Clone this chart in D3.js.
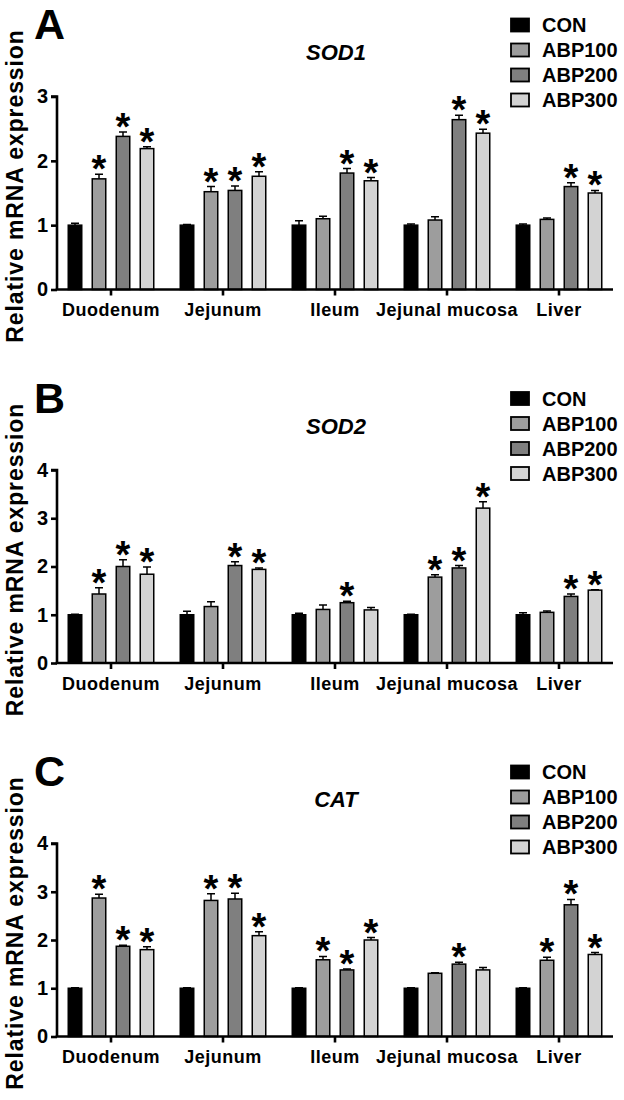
<!DOCTYPE html>
<html>
<head>
<meta charset="utf-8">
<script src="https://cdn.jsdelivr.net/npm/d3@7"></script>
<style>
  body { margin: 0; background: #fff; }
  text { font-family: Arial, "Liberation Sans", Helvetica, sans-serif; font-weight: bold; }
</style>
</head>
<body>
<div id="chart"></div>
<script>
// categories and groups
const tissues = ["Duodenum", "Jejunum", "Ileum", "Jejunal mucosa", "Liver"];
const groups = ["CON", "ABP100", "ABP200", "ABP300"];
const groupColors = ["#000000", "#9d9d9d", "#7f7f7f", "#d3d3d3"];

// panel A - SOD1
const sod1Con = [1, 1, 1, 1, 1];
const sod1ConErr = [0.03, 0.01, 0.07, 0.02, 0.02];
const sod1Abp100 = [1.72, 1.52, 1.10, 1.08, 1.09];
const sod1Abp100Err = [0.07, 0.08, 0.04, 0.05, 0.02];
const sod1Abp200 = [2.38, 1.54, 1.81, 2.64, 1.60];
const sod1Abp200Err = [0.07, 0.07, 0.07, 0.07, 0.06];
const sod1Abp300 = [2.19, 1.76, 1.69, 2.43, 1.50];
const sod1Abp300Err = [0.03, 0.07, 0.05, 0.06, 0.04];
const sod1Sig = [[0,0,0,0,0], [1,1,0,0,0], [1,1,1,1,1], [1,1,1,1,1]];

// panel B - SOD2
const sod2Con = [1, 1, 1, 1, 1];
const sod2ConErr = [0.01, 0.07, 0.03, 0.01, 0.04];
const sod2Abp100 = [1.43, 1.17, 1.11, 1.78, 1.05];
const sod2Abp100Err = [0.13, 0.10, 0.09, 0.05, 0.03];
const sod2Abp200 = [2.00, 2.02, 1.25, 1.97, 1.38];
const sod2Abp200Err = [0.14, 0.08, 0.03, 0.05, 0.05];
const sod2Abp300 = [1.84, 1.94, 1.10, 3.21, 1.51];
const sod2Abp300Err = [0.15, 0.03, 0.05, 0.13, 0.01];
const sod2Sig = [[0,0,0,0,0], [1,0,0,1,0], [1,1,1,1,1], [1,1,0,1,1]];

// panel C - CAT
const catCon = [1, 1, 1, 1, 1];
const catConErr = [0.01, 0.01, 0.01, 0.01, 0.01];
const catAbp100 = [2.87, 2.82, 1.59, 1.31, 1.58];
const catAbp100Err = [0.08, 0.14, 0.07, 0.01, 0.06];
const catAbp200 = [1.87, 2.85, 1.38, 1.50, 2.73];
const catAbp200Err = [0.02, 0.12, 0.02, 0.04, 0.11];
const catAbp300 = [1.80, 2.09, 2.00, 1.38, 1.70];
const catAbp300Err = [0.06, 0.08, 0.05, 0.05, 0.04];
const catSig = [[0,0,0,0,0], [1,1,1,0,1], [1,1,1,1,1], [1,1,1,0,1]];

const ticksA = [0, 1, 2, 3];
const ticksBC = [0, 1, 2, 3, 4];

const panels = [
  { letter: "A", gene: "SOD1", max: 3, ticks: ticksA,
    vals: [sod1Con, sod1Abp100, sod1Abp200, sod1Abp300],
    errs: [sod1ConErr, sod1Abp100Err, sod1Abp200Err, sod1Abp300Err], sig: sod1Sig },
  { letter: "B", gene: "SOD2", max: 4, ticks: ticksBC,
    vals: [sod2Con, sod2Abp100, sod2Abp200, sod2Abp300],
    errs: [sod2ConErr, sod2Abp100Err, sod2Abp200Err, sod2Abp300Err], sig: sod2Sig },
  { letter: "C", gene: "CAT", max: 4, ticks: ticksBC,
    vals: [catCon, catAbp100, catAbp200, catAbp300],
    errs: [catConErr, catAbp100Err, catAbp200Err, catAbp300Err], sig: catSig }
];

const width = 624, height = 1100;
const panelH = 373.5;
const plotTop = 96.5, plotBottom = 289.5;
const axisLeft = 57, axisRight = 613;

const svg = d3.select("#chart").append("svg")
  .attr("width", width)
  .attr("height", height);

const xScale = d3.scaleBand()
  .domain(tissues)
  .range([55, 615]);

const xInner = d3.scaleBand()
  .domain(groups)
  .range([-48, 48])
  .paddingInner(0.375)
  .paddingOuter(0.1875);

panels.forEach((p, pi) => {
  const g = svg.append("g")
    .attr("transform", "translate(0," + (pi * panelH) + ")");

  const yScale = d3.scaleLinear()
    .domain([0, p.max])
    .range([plotBottom, plotTop]);

  // panel letter
  g.append("text")
    .attr("x", 34)
    .attr("y", 39)
    .style("font-size", "43px")
    .text(p.letter);

  // gene title
  g.append("text")
    .attr("x", 336)
    .attr("y", 60)
    .attr("text-anchor", "middle")
    .style("font-size", "22px")
    .style("font-style", "italic")
    .text(p.gene);

  // y axis title
  g.append("text")
    .attr("transform", "translate(23," + 186 + ") rotate(-90)")
    .attr("text-anchor", "middle")
    .style("font-size", "23px")
    .style("letter-spacing", "0.9px")
    .text("Relative mRNA expression");

  // bars
  groups.forEach((grp, gi) => {
    const rows = tissues.map((t, ti) => ({
      t: t, v: p.vals[gi][ti], e: p.errs[gi][ti], s: p.sig[gi][ti]
    }));
    const bx = (d) => xScale(d.t) + xScale.bandwidth() / 2 + xInner(grp);
    const cx = (d) => bx(d) + xInner.bandwidth() / 2;

    // error bars (upper only)
    g.selectAll(".err" + gi)
      .data(rows)
      .enter()
      .append("path")
      .attr("d", (d) => {
        const y0 = yScale(d.v), y1 = yScale(d.v + d.e);
        return "M" + cx(d) + "," + y0 + "V" + y1 +
               "M" + (cx(d) - 4) + "," + y1 + "H" + (cx(d) + 4);
      })
      .attr("stroke", "#000")
      .attr("stroke-width", 1.5)
      .attr("fill", "none");

    g.selectAll(".bar" + gi)
      .data(rows)
      .enter()
      .append("rect")
      .attr("x", (d) => bx(d) + 0.75)
      .attr("y", (d) => yScale(d.v))
      .attr("width", xInner.bandwidth() - 1.5)
      .attr("height", (d) => yScale(0) - yScale(d.v))
      .attr("fill", groupColors[gi])
      .attr("stroke", "#000")
      .attr("stroke-width", 1.5);

    g.selectAll(".sig" + gi)
      .data(rows.filter((d) => d.s))
      .enter()
      .append("text")
      .attr("x", (d) => cx(d))
      .attr("y", (d) => yScale(d.v + d.e) + 8)
      .attr("text-anchor", "middle")
      .style("font-size", "38px")
      .text("*");
  });

  // axes
  const yAxis = d3.axisLeft(yScale)
    .tickValues(p.ticks)
    .tickFormat(d3.format("d"))
    .tickSize(6)
    .tickPadding(3);

  const ya = g.append("g")
    .attr("transform", "translate(" + axisLeft + ",0)")
    .call(yAxis);
  ya.select(".domain").attr("d", "M-6," + plotTop + "H0V" + plotBottom);
  ya.selectAll("path, line").attr("stroke", "#000").attr("stroke-width", 2.6);
  ya.selectAll("text")
    .style("font-size", "20px")
    .attr("fill", "#000");

  const xAxis = d3.axisBottom(xScale)
    .tickSize(6)
    .tickPadding(8);

  const xa = g.append("g")
    .attr("transform", "translate(0," + plotBottom + ")")
    .call(xAxis);
  xa.select(".domain").attr("d", "M" + (axisLeft - 1.3) + ",0H" + axisRight);
  xa.selectAll("path, line").attr("stroke", "#000").attr("stroke-width", 2.6);
  xa.selectAll("text")
    .style("font-size", "18px")
    .style("letter-spacing", "0.5px")
    .attr("fill", "#000");

  // legend
  const lg = g.append("g");
  groups.forEach((grp, gi) => {
    const ly = 25 + gi * 25;
    lg.append("rect")
      .attr("x", 511)
      .attr("y", ly - 6.5)
      .attr("width", 18)
      .attr("height", 13)
      .attr("fill", groupColors[gi])
      .attr("stroke", "#000")
      .attr("stroke-width", 1.8);
    lg.append("text")
      .attr("x", 542)
      .attr("y", ly + 7)
      .style("font-size", "20px")
      .text(grp);
  });
});
</script>
</body>
</html>
